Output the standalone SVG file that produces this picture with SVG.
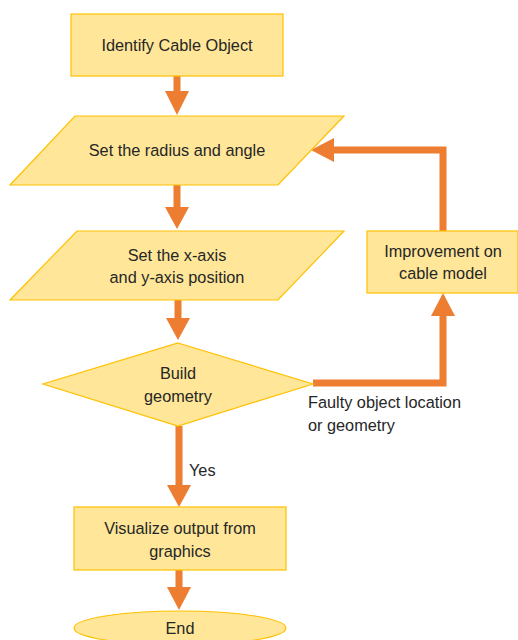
<svg xmlns="http://www.w3.org/2000/svg" width="518" height="640" viewBox="0 0 518 640">
<defs>
<style>
.n{fill:#FFE699;stroke:#FFC000;stroke-width:1.2}
.t{font-family:"Liberation Sans",Arial,sans-serif;font-size:16.3px;fill:#262626;text-anchor:middle}
.l{font-family:"Liberation Sans",Arial,sans-serif;font-size:16.3px;fill:#262626}
.c{fill:none;stroke:#ED7D31;stroke-width:7}
.h{fill:#ED7D31}
</style>
</defs>
<rect width="518" height="640" fill="#fff"/>
<g id="connectors">
<line class="c" x1="177" y1="76" x2="177" y2="92"/>
<polygon class="h" points="165,91 189,91 177,115"/>
<line class="c" x1="177" y1="185" x2="177" y2="208"/>
<polygon class="h" points="165,207 189,207 177,229"/>
<line class="c" x1="178" y1="300" x2="178" y2="319"/>
<polygon class="h" points="166,318 190,318 178,340"/>
<line class="c" x1="179" y1="426" x2="179" y2="486"/>
<polygon class="h" points="167,485 191,485 179,507"/>
<line class="c" x1="179" y1="570" x2="179" y2="588"/>
<polygon class="h" points="167,587 191,587 179,610"/>
<polyline class="c" points="313,383 443,383 443,315"/>
<polygon class="h" points="431,316 455,316 443,293"/>
<polyline class="c" points="443,231 443,150 332,150"/>
<polygon class="h" points="334,138 334,162 311,150"/>
</g>
<g id="n1"><rect class="n" x="71" y="14" width="212" height="62"/><text class="t" x="177" y="51">Identify Cable Object</text></g>
<g id="n2"><polygon class="n" points="75,116 344,116 278,185 10,185"/><text class="t" x="177" y="156">Set the radius and angle</text></g>
<g id="n3"><polygon class="n" points="77,231 344,231 278,300 10,300"/><text class="t" x="177" y="261">Set the x-axis</text><text class="t" x="177" y="283">and y-axis position</text></g>
<g id="n4"><polygon class="n" points="178,343 313,384 178,426 43,384"/><text class="t" x="178" y="379">Build</text><text class="t" x="178" y="402">geometry</text></g>
<g id="n5"><rect class="n" x="367" y="231" width="151" height="62"/><text class="t" x="443" y="257">Improvement on</text><text class="t" x="443" y="279">cable model</text></g>
<g id="n6"><rect class="n" x="74" y="507" width="212" height="63"/><text class="t" x="180" y="534">Visualize output from</text><text class="t" x="180" y="557">graphics</text></g>
<g id="n7"><ellipse class="n" cx="180" cy="628" rx="106" ry="17"/><text class="t" x="180" y="634">End</text></g>
<text class="l" x="308" y="408">Faulty object location</text>
<text class="l" x="308" y="431">or geometry</text>
<text class="l" x="189" y="476">Yes</text>
</svg>
